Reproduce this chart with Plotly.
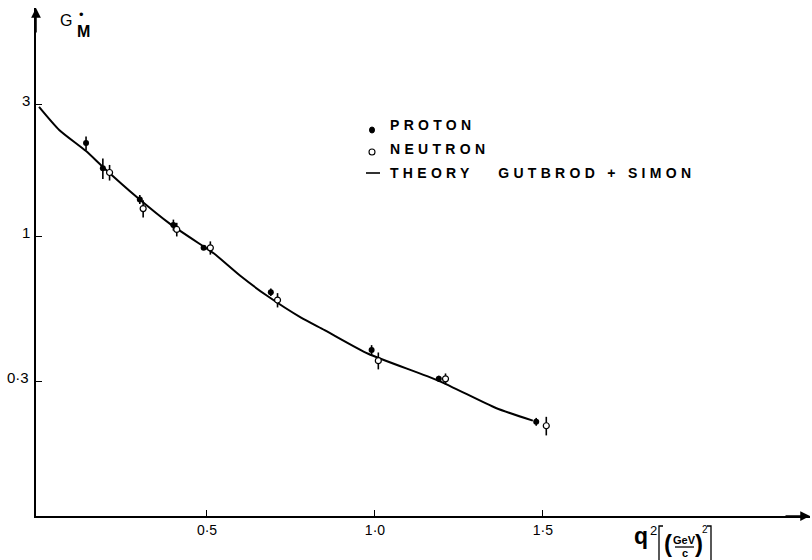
import math
import plotly.graph_objects as go

# Magnetic form factor G_M* versus q^2 (GeV/c)^2
proton_q2 = [0.14, 0.19, 0.30, 0.40, 0.49, 0.69, 0.99, 1.19, 1.48]
proton_gm = [2.17, 1.76, 1.36, 1.10, 0.91, 0.63, 0.39, 0.307, 0.215]
proton_err = [0.12, 0.15, 0.05, 0.05, 0.015, 0.02, 0.016, 0.008, 0.007]

neutron_q2 = [0.21, 0.31, 0.41, 0.51, 0.71, 1.01, 1.21, 1.51]
neutron_gm = [1.70, 1.26, 1.06, 0.91, 0.59, 0.357, 0.307, 0.208]
neutron_err = [0.11, 0.09, 0.06, 0.05, 0.035, 0.025, 0.014, 0.016]

theory_q2 = [0.0, 0.06, 0.14, 0.19, 0.29, 0.39, 0.49, 0.52, 0.60, 0.68,
             0.78, 0.85, 0.98, 1.19, 1.36, 1.47]
theory_gm = [2.93, 2.42, 2.03, 1.78, 1.39, 1.11, 0.92, 0.87, 0.72, 0.61,
             0.51, 0.46, 0.378, 0.302, 0.241, 0.217]

y_ticks = [0.3, 1, 3]
y_ticktext = ["0·3", "1", "3"]
x_ticks = [0.5, 1.0, 1.5]
x_ticktext = ["0·5", "1·0", "1·5"]

legend_labels = ["PROTON", "NEUTRON", "THEORY\u00a0\u00a0 GUTBROD + SIMON"]

W, H = 812, 560
ML, MR, MT, MB = 36, 2, 8, 44
PW, PH = W - ML - MR, H - MT - MB
FONT = "Liberation Sans, Arial, Helvetica, sans-serif"


def px(x):
    return (x - ML) / PW


def py(y):
    return (H - MB - y) / PH


def label(x, y, text, size, xanchor="center", **kw):
    return dict(xref="paper", yref="paper", x=px(x), y=py(y), text=text,
                showarrow=False, xanchor=xanchor, yanchor="middle",
                font=dict(family=FONT, size=size, color="black"), **kw)


fig = go.Figure()

fig.add_trace(go.Scatter(
    x=theory_q2, y=theory_gm, mode="lines",
    line=dict(color="black", width=2, shape="spline", smoothing=0.6),
    hoverinfo="skip"))

fig.add_trace(go.Scatter(
    x=proton_q2, y=proton_gm, mode="markers",
    marker=dict(symbol="circle", size=6, color="black"),
    error_y=dict(type="data", array=proton_err, color="black",
                 thickness=1.6, width=0)))

fig.add_trace(go.Scatter(
    x=neutron_q2, y=neutron_gm, mode="markers",
    marker=dict(symbol="circle", size=6, color="white",
                line=dict(color="black", width=1.2)),
    error_y=dict(type="data", array=neutron_err, color="black",
                 thickness=1.6, width=0)))

annotations = []
shapes = []

# y tick labels on the log scale: multi-character labels end at the axis,
# single digits are centred so they sit just left of it
for val, txt in zip(y_ticks, y_ticktext):
    if len(txt) > 1:
        xpos, anchor = px(31), "right"
    else:
        xpos, anchor = px(26), "center"
    annotations.append(dict(xref="paper", yref="y", x=xpos, y=math.log10(val),
                            yshift=4, text=txt, showarrow=False,
                            xanchor=anchor, yanchor="middle",
                            font=dict(family=FONT, size=15, color="black")))

# axis arrows
annotations.append(dict(xref="paper", yref="paper", x=0, y=1, ax=0, ay=26,
                        text="", showarrow=True,
                        arrowhead=2, arrowsize=1.3, arrowwidth=1.5,
                        arrowcolor="black"))
annotations.append(dict(xref="paper", yref="paper", x=1, y=0, ax=-26, ay=0,
                        text="", showarrow=True, arrowhead=2, arrowsize=1.3,
                        arrowwidth=1.5, arrowcolor="black"))

# y axis title G_M*
annotations.append(label(66, 21, "G", 16))
annotations.append(label(81, 15, "•", 13))
annotations.append(label(83, 31, "<b>M</b>", 16))

# x axis title q^2 [ (GeV/c)^2 ]
annotations.append(label(641, 536, "<b>q</b>", 23))
annotations.append(label(653, 530, "2", 13))
annotations.append(label(668, 543, "<b>(</b>", 24))
annotations.append(label(699, 543, "<b>)</b>", 24))
annotations.append(label(684.5, 540, "<b>GeV</b>", 11))
annotations.append(label(684.5, 553, "<b>c</b>", 11))
annotations.append(label(705, 529, "2", 10))

line_k = dict(color="black", width=1.3)
shapes.append(dict(type="line", xref="paper", yref="paper",
                   x0=px(675), x1=px(694), y0=py(547), y1=py(547), line=line_k))
shapes.append(dict(type="path", xref="paper", yref="paper",
                   path=f"M {px(663)},{py(526)} L {px(659)},{py(526)} L {px(659)},{py(560)}",
                   line=line_k))
shapes.append(dict(type="path", xref="paper", yref="paper",
                   path=f"M {px(707)},{py(526)} L {px(711)},{py(526)} L {px(711)},{py(560)}",
                   line=line_k))

# key
key_rows = [125, 149, 173]
for text, row in zip(legend_labels, key_rows):
    annotations.append(label(388, row, f"<b>{text}</b>", 14,
                             xanchor="left", align="left"))
shapes.append(dict(type="circle", xref="paper", yref="paper",
                   xsizemode="pixel", ysizemode="pixel",
                   xanchor=px(372), yanchor=py(key_rows[0] + 5),
                   x0=-2.5, x1=2.5, y0=-3, y1=3,
                   fillcolor="black", line=dict(color="black", width=1)))
shapes.append(dict(type="circle", xref="paper", yref="paper",
                   xsizemode="pixel", ysizemode="pixel",
                   xanchor=px(372), yanchor=py(key_rows[1] + 3),
                   x0=-3, x1=3, y0=-3, y1=3,
                   fillcolor="white", line=dict(color="black", width=1.1)))
shapes.append(dict(type="line", xref="paper", yref="paper",
                   x0=px(366), x1=px(380), y0=py(key_rows[2]), y1=py(key_rows[2]),
                   line=dict(color="black", width=1.6)))

fig.update_layout(
    width=W, height=H,
    margin=dict(l=ML, r=MR, t=MT, b=MB, pad=0),
    paper_bgcolor="white", plot_bgcolor="white",
    showlegend=False,
    font=dict(family=FONT, size=14, color="black"),
    annotations=annotations, shapes=shapes,
    xaxis=dict(range=[-0.009, 2.295], showgrid=False, zeroline=False,
               showline=True, linecolor="black", linewidth=1.6,
               tickmode="array", tickvals=x_ticks, ticktext=x_ticktext,
               ticks="inside", ticklen=6, tickwidth=1.3, tickcolor="black",
               tickfont=dict(family=FONT, size=14, color="black")),
    yaxis=dict(type="log", range=[-1.007, 0.823], showgrid=False,
               zeroline=False, showline=True, linecolor="black", linewidth=1.6,
               tickmode="array", tickvals=y_ticks, showticklabels=False,
               ticks="inside", ticklen=6, tickwidth=1.3, tickcolor="black"),
)

# widen the key lettering
spacing_js = """
var gd = document.getElementById('{plot_id}');
gd.querySelectorAll('.annotation-text').forEach(function (t) {
  if (/^[A-Z +\\u00a0]{4,}$/.test(t.textContent)) { t.style.letterSpacing = '4.3px'; }
});
"""

fig.write_html("out.html", post_script=spacing_js)
